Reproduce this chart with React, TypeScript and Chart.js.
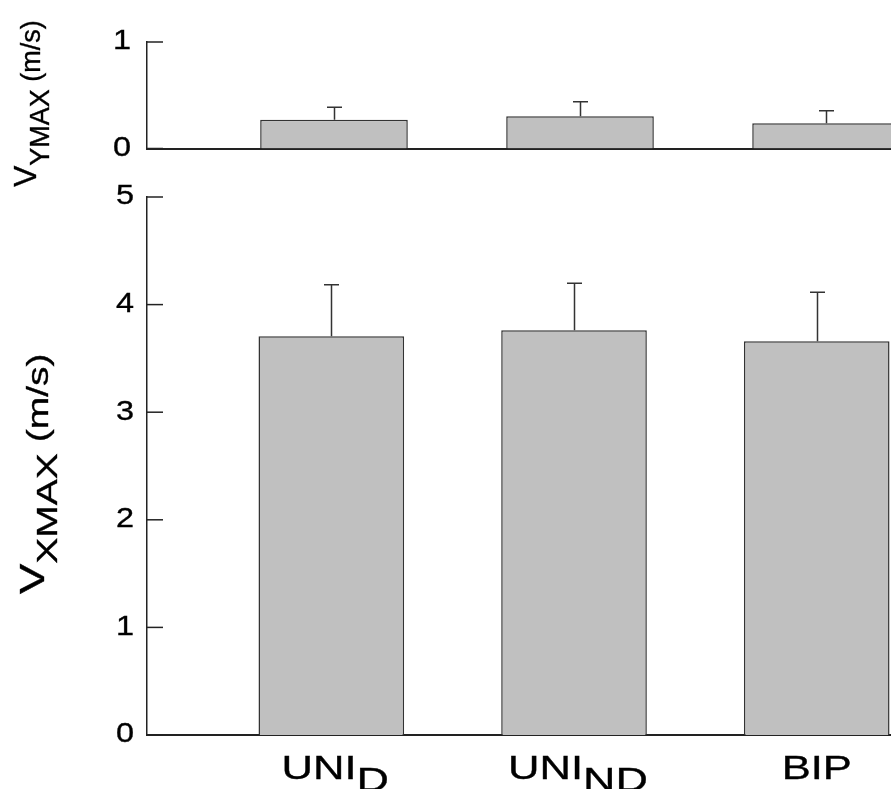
import React, { useEffect, useRef } from 'react';
import { Chart, registerables } from 'chart.js';

Chart.register(...registerables);

// ---- data ----
const categoryPositions = [1, 2, 3];
const categoryMain = ['UNI', 'UNI', 'BIP'];
const categorySub = ['D', 'ND', ''];
const vyMean = [0.27, 0.302, 0.237];
const vySd = [0.118, 0.138, 0.118];
const vxMean = [3.705, 3.761, 3.659];
const vxSd = [0.48, 0.437, 0.455];
const vyTicks = [0, 1];
const vxTicks = [0, 1, 2, 3, 4, 5];

const FONT = '"Liberation Sans", Arial, sans-serif';
const W = 891;
const H = 789;

type Seg = { text: string; size: number; dy: number };

function drawRich(
  ctx: CanvasRenderingContext2D,
  segs: Seg[],
  x: number,
  y: number,
  rot: number,
  stretch: number,
  align: 'left' | 'center' | 'right',
  baseline: CanvasTextBaseline = 'alphabetic'
) {
  ctx.save();
  ctx.translate(x, y);
  if (rot) ctx.rotate(rot);
  ctx.scale(stretch, 1);
  ctx.fillStyle = '#000';
  ctx.strokeStyle = '#000';
  ctx.lineWidth = 0.35;
  ctx.textBaseline = baseline;
  ctx.textAlign = 'left';
  const widths: number[] = [];
  let total = 0;
  for (const s of segs) {
    ctx.font = `${s.size}px ${FONT}`;
    const w = ctx.measureText(s.text).width;
    widths.push(w);
    total += w;
  }
  let cx = align === 'center' ? -total / 2 : align === 'right' ? -total : 0;
  segs.forEach((s, i) => {
    ctx.font = `${s.size}px ${FONT}`;
    ctx.fillText(s.text, cx, s.dy);
    ctx.strokeText(s.text, cx, s.dy);
    cx += widths[i];
  });
  ctx.restore();
}

type PanelCfg = {
  means: number[];
  sds: number[];
  ticks: number[];
  yMax: number;
  xMin: number;
  xMax: number;
  padTop: number;
  padBottom: number;
  tickLabelRight: number;
  title: Seg[];
  titleX: number;
  titleY: number;
  titleStretch: number;
  showCategories: boolean;
};

function makeChart(canvas: HTMLCanvasElement, cfg: PanelCfg) {
  const decor = {
    id: 'decor',
    afterDatasetsDraw(chart: any) {
      const ctx = chart.ctx as CanvasRenderingContext2D;
      const meta = chart.getDatasetMeta(0);
      const ys = chart.scales.y;
      ctx.save();
      ctx.strokeStyle = '#333';
      ctx.lineWidth = 1.5;
      meta.data.forEach((bar: any, i: number) => {
        const top = ys.getPixelForValue(cfg.means[i] + cfg.sds[i]);
        const x = Math.round(bar.x) + 0.5;
        ctx.beginPath();
        ctx.moveTo(x, bar.y);
        ctx.lineTo(x, top);
        ctx.moveTo(x - 7.5, top);
        ctx.lineTo(x + 7.5, top);
        ctx.stroke();
      });
      ctx.restore();
    },
    afterDraw(chart: any) {
      const ctx = chart.ctx as CanvasRenderingContext2D;
      const ys = chart.scales.y;
      const xs = chart.scales.x;
      const left = chart.chartArea.left;
      ctx.save();
      ctx.strokeStyle = '#222';
      ctx.lineWidth = 1.5;
      cfg.ticks.forEach((t) => {
        const py = ys.getPixelForValue(t);
        ctx.beginPath();
        ctx.moveTo(left, py);
        ctx.lineTo(left + 16, py);
        ctx.stroke();
        drawRich(ctx, [{ text: String(t), size: 27, dy: 0 }], cfg.tickLabelRight, py, 0, 1.2, 'right', 'middle');
      });
      ctx.restore();
      drawRich(ctx, cfg.title, cfg.titleX, cfg.titleY, -Math.PI / 2, cfg.titleStretch, 'left');
      if (cfg.showCategories) {
        categoryPositions.forEach((p, i) => {
          const px = xs.getPixelForValue(p);
          const segs: Seg[] = [{ text: categoryMain[i], size: 33, dy: 0 }];
          if (categorySub[i]) segs.push({ text: categorySub[i], size: 34, dy: 12 });
          drawRich(ctx, segs, px + (categorySub[i] ? 4 : 0), 779, 0, 1.32, 'center');
        });
      }
    },
  };

  return new Chart(canvas, {
    type: 'bar',
    data: {
      datasets: [
        {
          data: cfg.means.map((v, i) => ({ x: categoryPositions[i], y: v })),
          backgroundColor: '#c0c0c0',
          borderColor: '#333',
          borderWidth: 1.5,
          categoryPercentage: 1,
          barPercentage: 0.6,
        } as any,
      ],
    },
    options: {
      animation: false,
      responsive: false,
      events: [],
      layout: { padding: { left: 147, right: 0, top: cfg.padTop, bottom: cfg.padBottom } },
      plugins: { legend: { display: false }, tooltip: { enabled: false }, title: { display: false } },
      scales: {
        x: {
          type: 'linear',
          min: cfg.xMin,
          max: cfg.xMax,
          offset: false,
          afterBuildTicks(s: any) {
            s.ticks = categoryPositions.map((v) => ({ value: v }));
          },
          ticks: { display: false },
          grid: { display: false, drawTicks: false },
          border: { display: true, color: '#222', width: 2 },
          afterFit(s: any) {
            s.height = 0;
          },
        },
        y: {
          type: 'linear',
          min: 0,
          max: cfg.yMax,
          ticks: { display: false },
          grid: { display: false, drawTicks: false },
          border: { display: true, color: '#222', width: 1.5 },
          afterFit(s: any) {
            s.width = 0;
          },
        },
      },
    } as any,
    plugins: [decor],
  });
}

export default function App() {
  const topRef = useRef<HTMLCanvasElement>(null);
  const botRef = useRef<HTMLCanvasElement>(null);

  useEffect(() => {
    const top = makeChart(topRef.current!, {
      means: vyMean,
      sds: vySd,
      ticks: vyTicks,
      yMax: 1,
      xMin: 0.24,
      xMax: 3.264,
      padTop: 42,
      padBottom: H - 148.5,
      tickLabelRight: 131,
      title: [
        { text: 'V', size: 32, dy: 0 },
        { text: 'YMAX', size: 27, dy: 13 },
        { text: ' (m/s)', size: 27, dy: 4 },
      ],
      titleX: 36,
      titleY: 187,
      titleStretch: 1.0,
      showCategories: false,
    });
    const bot = makeChart(botRef.current!, {
      means: vxMean,
      sds: vxSd,
      ticks: vxTicks,
      yMax: 5,
      xMin: 0.2406,
      xMax: 3.306,
      padTop: 197,
      padBottom: H - 735,
      tickLabelRight: 134,
      title: [
        { text: 'V', size: 35, dy: 0 },
        { text: 'XMAX', size: 30, dy: 13 },
        { text: ' (m/s)', size: 30, dy: 4 },
      ],
      titleX: 44,
      titleY: 594,
      titleStretch: 1.3,
      showCategories: true,
    });
    return () => {
      top.destroy();
      bot.destroy();
    };
  }, []);

  return (
    <div style={{ position: 'fixed', left: 0, top: 0, width: W, height: H, background: '#fff', overflow: 'hidden' }}>
      <canvas ref={topRef} width={W} height={H} style={{ position: 'absolute', left: 0, top: 0 }} />
      <canvas ref={botRef} width={W} height={H} style={{ position: 'absolute', left: 0, top: 0 }} />
    </div>
  );
}
